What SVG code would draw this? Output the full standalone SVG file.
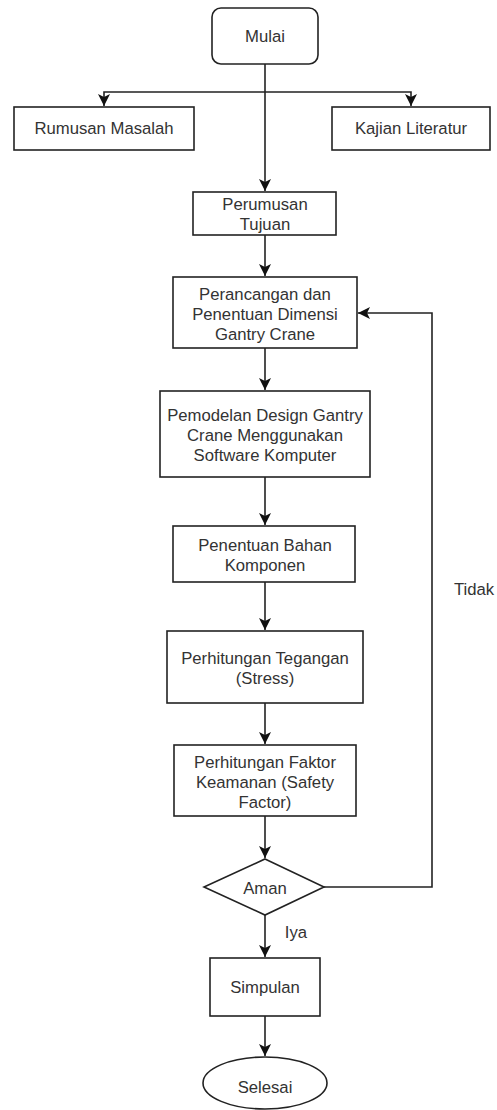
<svg xmlns="http://www.w3.org/2000/svg" width="497" height="1110" viewBox="0 0 497 1110">
<style>
.box{fill:#fff;stroke:#222;stroke-width:1.6}
.t{font-family:"Liberation Sans",Arial,sans-serif;font-size:16.7px;fill:#333;text-anchor:middle;dominant-baseline:central}
.c{fill:none;stroke:#222;stroke-width:1.6}
</style>
<defs>
<marker id="ah" markerWidth="12" markerHeight="12" refX="10" refY="5" orient="auto" markerUnits="userSpaceOnUse" viewBox="0 0 10 10">
<path d="M0,0 L10,5 L0,10 L2.5,5 Z" fill="#111"/>
</marker>
</defs>
<rect width="497" height="1110" fill="#fff"/>
<g id="connectors">
<path class="c" d="M265,64 V92"/>
<path class="c" d="M265,92 H104 V106" marker-end="url(#ah)"/>
<path class="c" d="M265,92 H411 V106" marker-end="url(#ah)"/>
<path class="c" d="M265,92 V191" marker-end="url(#ah)"/>
<path class="c" d="M265,235 V276" marker-end="url(#ah)"/>
<path class="c" d="M265,348 V390" marker-end="url(#ah)"/>
<path class="c" d="M265,477 V525" marker-end="url(#ah)"/>
<path class="c" d="M265,582 V630" marker-end="url(#ah)"/>
<path class="c" d="M265,703 V744" marker-end="url(#ah)"/>
<path class="c" d="M265,816 V858" marker-end="url(#ah)"/>
<path class="c" d="M324,887 H432 V313 H358" marker-end="url(#ah)"/>
<path class="c" d="M265,915 V957" marker-end="url(#ah)"/>
<path class="c" d="M265,1016 V1056" marker-end="url(#ah)"/>
<text class="t" x="474" y="589">Tidak</text>
<text class="t" x="296" y="932">Iya</text>
</g>
<g id="mulai"><rect class="box" x="212" y="8" width="106" height="56" rx="9"/><text class="t" x="265" y="36">Mulai</text></g>
<g id="rumusan"><rect class="box" x="14" y="107" width="180" height="43"/><text class="t" x="104" y="128.5">Rumusan Masalah</text></g>
<g id="kajian"><rect class="box" x="332" y="107" width="158" height="43"/><text class="t" x="411" y="128.5">Kajian Literatur</text></g>
<g id="tujuan"><rect class="box" x="193" y="192" width="143" height="43"/><text class="t" x="265" y="204">Perumusan</text><text class="t" x="265" y="224">Tujuan</text></g>
<g id="perancangan"><rect class="box" x="173" y="277" width="184" height="71"/><text class="t" x="265" y="294">Perancangan dan</text><text class="t" x="265" y="314">Penentuan Dimensi</text><text class="t" x="265" y="334">Gantry Crane</text></g>
<g id="pemodelan"><rect class="box" x="160" y="391" width="210" height="86"/><text class="t" x="265" y="415">Pemodelan Design Gantry</text><text class="t" x="265" y="435">Crane Menggunakan</text><text class="t" x="265" y="455">Software Komputer</text></g>
<g id="bahan"><rect class="box" x="173" y="526" width="182" height="56"/><text class="t" x="265" y="545">Penentuan Bahan</text><text class="t" x="265" y="565">Komponen</text></g>
<g id="tegangan"><rect class="box" x="167" y="631" width="196" height="72"/><text class="t" x="265" y="658">Perhitungan Tegangan</text><text class="t" x="265" y="678">(Stress)</text></g>
<g id="faktor"><rect class="box" x="174" y="745" width="182" height="71"/><text class="t" x="265" y="762">Perhitungan Faktor</text><text class="t" x="265" y="782">Keamanan (Safety</text><text class="t" x="265" y="802">Factor)</text></g>
<g id="aman"><path class="box" d="M265,859 L324,887 L265,915 L204,887 Z"/><text class="t" x="265" y="888">Aman</text></g>
<g id="simpulan"><rect class="box" x="210" y="958" width="110" height="58"/><text class="t" x="265" y="987">Simpulan</text></g>
<g id="selesai"><ellipse class="box" cx="265" cy="1083" rx="62" ry="26"/><text class="t" x="265" y="1087">Selesai</text></g>
</svg>
